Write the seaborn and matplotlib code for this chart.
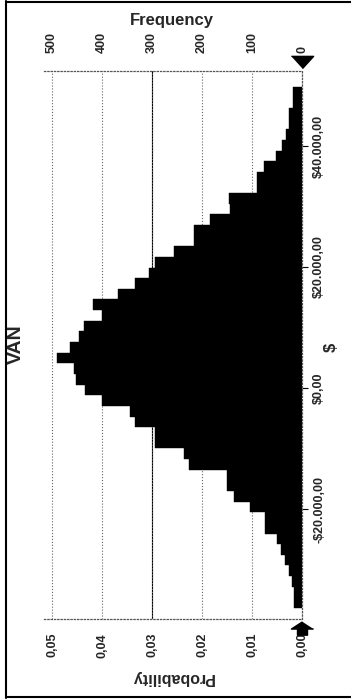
"""
rotated VAN histogram (simulation output), redrawn with seaborn
"""

import numpy as np
import pandas as pd
import matplotlib
matplotlib.use('Agg')
import matplotlib.pyplot as plt
from matplotlib.lines import Line2D
import seaborn as sns

# simulation results
trials = 10000
van_low = -36360      # lower edge of the first bin ($)
van_high = 49800      # upper edge of the last bin ($)
# frequency per bin, from the lowest $ bin to the highest
freq = [16, 16, 21, 27, 34, 43, 51, 74, 74, 104,
        137, 151, 151, 227, 237, 294, 294, 334, 344, 401,
        434, 452, 456, 491, 465, 447, 437, 401, 418, 369,
        334, 307, 294, 257, 217, 217, 184, 144, 146, 91,
        91, 77, 52, 41, 32, 27, 27, 18, 18]

freq_ticks = [0, 100, 200, 300, 400, 500]
prob_ticks = [0.00, 0.01, 0.02, 0.03, 0.04, 0.05]
prob_labels = ['0,00', '0,01', '0,02', '0,03', '0,04', '0,05']
dollar_ticks = [-20000, 0, 20000, 40000]
dollar_labels = ['-$20.000,00', '$0,00', '$20.000,00', '$40.000,00']

bin_edges = np.linspace(van_low, van_high, len(freq) + 1)
df = pd.DataFrame({'van': (bin_edges[:-1] + bin_edges[1:]) / 2, 'n': freq})

sns.set_style('white')
plt.rcParams['font.family'] = ['Liberation Sans', 'DejaVu Sans']

W, H = 351, 700
fig = plt.figure(figsize=(W / 100, H / 100), dpi=100)
fig.patch.set_facecolor('white')
ax = fig.add_axes([44 / W, 81 / H, 258 / W, 548 / H])

sns.histplot(data=df, y='van', weights='n', bins=len(freq),
             binrange=(van_low, van_high), color='black',
             alpha=1, edgecolor='black', linewidth=0.3, ax=ax)

# chart is turned a quarter turn: frequency grows to the left
ax.set_xlim(516, 0)
ax.set_ylim(-38180, 52400)
ax.set_xlabel('')
ax.set_ylabel('')

tick_font = dict(fontsize=9, fontweight='bold')

# frequency on top
ax.xaxis.tick_top()
ax.set_xticks(freq_ticks)
ax.set_xticklabels([str(t) for t in freq_ticks], rotation=90, **tick_font)
ax.tick_params(axis='x', length=0, pad=13)

# probability on the bottom
sec = ax.secondary_xaxis('bottom', functions=(lambda f: f / trials, lambda p: p * trials))
sec.set_xticks(prob_ticks)
sec.set_xticklabels(prob_labels, rotation=90, **tick_font)
sec.tick_params(length=0, pad=10)
sec.spines['bottom'].set_visible(False)

# $ values on the right
ax.yaxis.tick_right()
ax.set_yticks(dollar_ticks)
ax.set_yticklabels(dollar_labels, rotation=90, va='center', **tick_font)
ax.tick_params(axis='y', direction='out', length=4, width=0.8, pad=4, color='black')

# grid + frame
ax.grid(axis='x', linestyle=':', color='#666666', linewidth=0.8)
ax.grid(axis='y', visible=False)
ax.axvline(freq_ticks[3], color='black', linewidth=0.8, zorder=0)
ax.set_axisbelow(True)
ax.spines['left'].set_visible(False)
for side in ['top', 'bottom', 'right']:
    ax.spines[side].set_linestyle(':')
    ax.spines[side].set_color('#555555')
    ax.spines[side].set_linewidth(0.9)

# certainty grabbers at the zero line
tri = [(-1, 0.55), (1, 0.55), (0, -0.55)]
arrow = [(0, 0.6), (-1, -0.05), (-0.45, -0.05), (-0.45, -0.6),
         (0.45, -0.6), (0.45, -0.05), (1, -0.05)]
ax.plot([0], [1.0164], marker=tri, ms=16, color='black', linestyle='none',
        transform=ax.get_xaxis_transform(), clip_on=False)
ax.plot([0], [-0.0173], marker=arrow, ms=16, color='black', linestyle='none',
        transform=ax.get_xaxis_transform(), clip_on=False)

fig.text(172 / W, 1 - 20 / H, 'Frequency', ha='center', va='center',
         fontsize=12, fontweight='bold')
fig.text(172 / W, 1 - 678 / H, 'Probability', ha='center', va='center',
         rotation=180, fontsize=11.5, fontweight='bold')
fig.text(16 / W, 1 - 344 / H, 'VAN', ha='center', va='center',
         rotation=90, fontsize=14, fontweight='bold')
fig.text(331 / W, 1 - 347 / H, '$', ha='center', va='center',
         rotation=90, fontsize=12, fontweight='bold')

# outer border
for xs, ys in [([6, 6], [1, 698]), ([6, 351], [697, 697]), ([6, 351], [2, 2])]:
    fig.add_artist(Line2D([x / W for x in xs], [1 - y / H for y in ys],
                          transform=fig.transFigure, color='black', linewidth=1.5))

fig.savefig('out.png', dpi=100)
plt.close(fig)
